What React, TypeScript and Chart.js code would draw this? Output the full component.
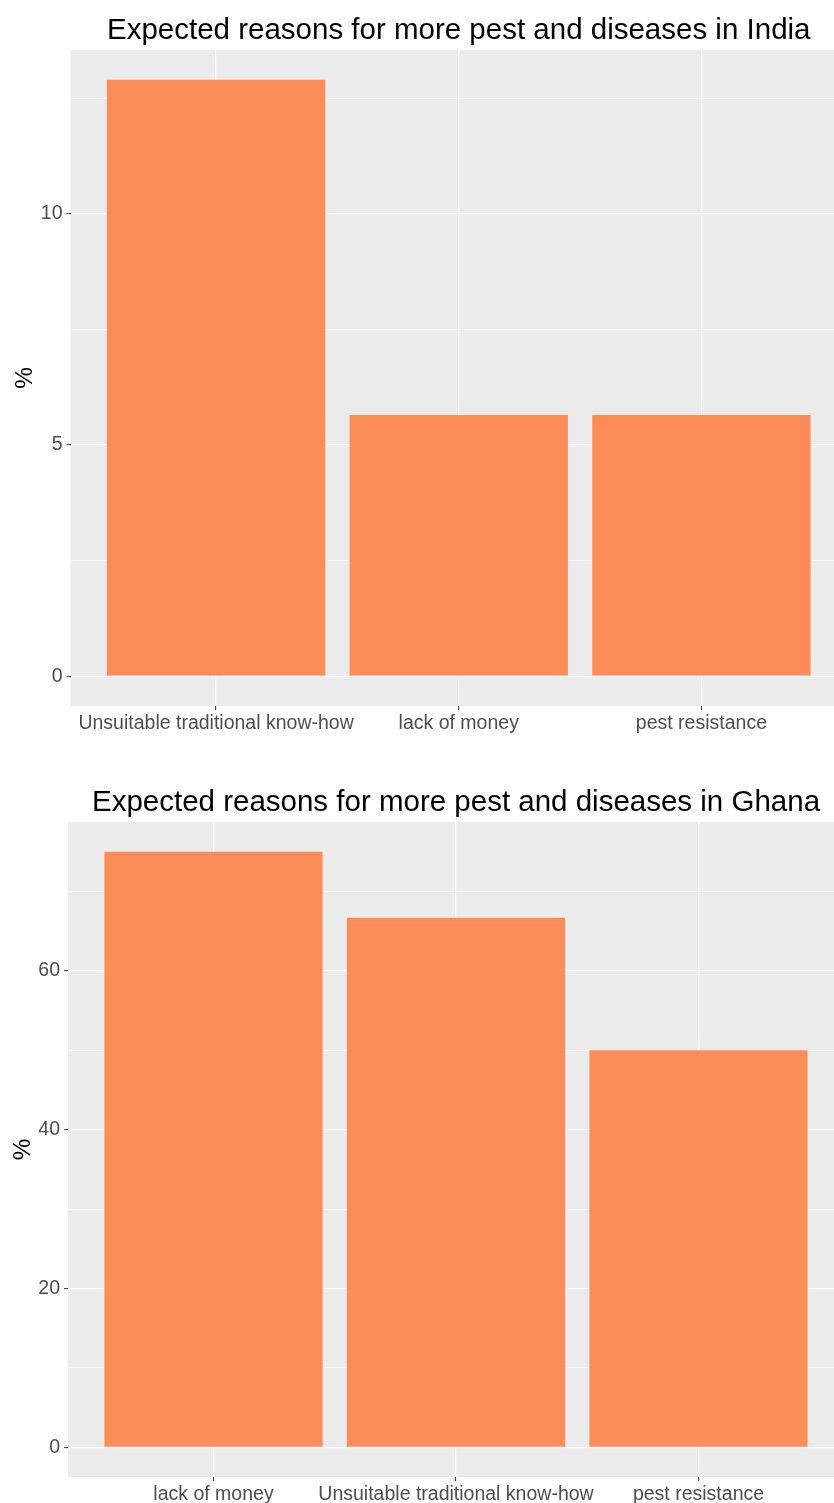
import React, { useEffect, useRef } from 'react';
import { Chart, registerables } from 'chart.js';

Chart.register(...registerables);

const indiaTitle = 'Expected reasons for more pest and diseases in India';
const indiaCategories = ['Unsuitable traditional know-how', 'lack of money', 'pest resistance'];
const indiaValues = [12.9, 5.65, 5.65];
const indiaMajorTicks = [0, 5, 10];
const indiaMinorTicks = [2.5, 7.5, 12.5];

const ghanaTitle = 'Expected reasons for more pest and diseases in Ghana';
const ghanaCategories = ['lack of money', 'Unsuitable traditional know-how', 'pest resistance'];
const ghanaValues = [75, 66.7, 50];
const ghanaMajorTicks = [0, 20, 40, 60];
const ghanaMinorTicks = [10, 30, 50, 70];

const FONT = '"Liberation Sans", Arial, Helvetica, sans-serif';
const BAR_COLOR = '#FC8D59';
const PANEL_BG = '#EBEBEB';

const panelBackground = {
  id: 'panelBackground',
  beforeDraw(chart: any) {
    const { ctx, chartArea } = chart;
    if (!chartArea) return;
    ctx.save();
    ctx.fillStyle = PANEL_BG;
    ctx.fillRect(chartArea.left, chartArea.top, chartArea.right - chartArea.left, chartArea.bottom - chartArea.top);
    ctx.restore();
  },
};

type PanelProps = {
  title: string;
  categories: string[];
  values: number[];
  majorTicks: number[];
  minorTicks: number[];
  top: number;
  width: number;
  height: number;
  axisWidth: number;
  titlePadTop: number;
  yTitlePad: number;
};

function BarPanel(props: PanelProps) {
  const ref = useRef<HTMLCanvasElement | null>(null);
  useEffect(() => {
    if (!ref.current) return;
    const { title, categories, values, majorTicks, minorTicks, axisWidth, titlePadTop, yTitlePad } = props;
    const positions = categories.map((_, i) => i + 1);
    const maxV = Math.max(...values);
    const expand = maxV * 0.05;
    const allTicks = [...majorTicks, ...minorTicks].sort((a, b) => a - b);
    const isMajor = (v: any) => majorTicks.some((m) => Math.abs(m - v) < 1e-9);

    const chart = new Chart(ref.current, {
      type: 'bar',
      data: {
        datasets: [
          {
            data: values.map((v, i) => ({ x: positions[i], y: v })),
            backgroundColor: BAR_COLOR,
            borderWidth: 0,
            categoryPercentage: 1,
            barPercentage: 0.9,
          } as any,
        ],
      },
      options: {
        animation: false,
        responsive: true,
        maintainAspectRatio: false,
        layout: { padding: 0 },
        plugins: {
          legend: { display: false },
          tooltip: { enabled: false },
          title: {
            display: true,
            text: title,
            fullSize: false,
            color: '#000000',
            font: { family: FONT, size: 29.5, weight: 'normal', lineHeight: 1.2 },
            padding: { top: titlePadTop, bottom: 1.6 },
          } as any,
        },
        scales: {
          x: {
            type: 'linear',
            min: 0.4,
            max: 3.6,
            offset: false,
            afterBuildTicks: (s: any) => {
              s.ticks = positions.map((v) => ({ value: v }));
            },
            afterFit: (s: any) => {
              s.height = 44;
            },
            ticks: {
              callback: (v: any) => categories[Math.round(v) - 1] ?? '',
              color: '#4D4D4D',
              font: { family: FONT, size: 19.5, lineHeight: 1.2 },
              padding: 1.5,
              autoSkip: false,
              maxRotation: 0,
              minRotation: 0,
            },
            grid: {
              color: '#FFFFFF',
              lineWidth: 1.2,
              offset: false,
              drawTicks: true,
              tickLength: 4,
              tickColor: '#333333',
              tickWidth: 1,
            },
            border: { display: false },
          } as any,
          y: {
            type: 'linear',
            min: -expand,
            max: maxV + expand,
            afterBuildTicks: (s: any) => {
              s.ticks = allTicks.map((v) => ({ value: v }));
            },
            afterFit: (s: any) => {
              s.width = axisWidth;
            },
            ticks: {
              callback: (v: any) => (isMajor(v) ? String(v) : ''),
              color: '#4D4D4D',
              font: { family: FONT, size: 19.5, lineHeight: 1.2 },
              padding: 4,
              autoSkip: false,
            },
            grid: {
              color: '#FFFFFF',
              lineWidth: (ctx: any) => (isMajor(ctx.tick?.value) ? 1.2 : 0.6),
              drawTicks: true,
              tickLength: 4,
              tickColor: (ctx: any) => (isMajor(ctx.tick?.value) ? '#333333' : 'rgba(0,0,0,0)'),
              tickWidth: 1,
            },
            title: {
              display: true,
              text: '%',
              color: '#000000',
              font: { family: FONT, size: 24.4, lineHeight: 1.2 },
              padding: { top: yTitlePad, bottom: 0 },
            },
            border: { display: false },
          } as any,
        },
      },
      plugins: [panelBackground],
    });
    return () => chart.destroy();
  }, []);

  return (
    <div
      style={{
        position: 'absolute',
        left: 0,
        top: props.top,
        width: props.width,
        height: props.height,
      }}
    >
      <canvas ref={ref} />
    </div>
  );
}

export default function App() {
  return (
    <div
      style={{
        position: 'absolute',
        left: 0,
        top: 0,
        width: 834,
        height: 1503,
        overflow: 'hidden',
        background: '#FFFFFF',
      }}
    >
      <BarPanel
        title={indiaTitle}
        categories={indiaCategories}
        values={indiaValues}
        majorTicks={indiaMajorTicks}
        minorTicks={indiaMinorTicks}
        top={0}
        width={847}
        height={750}
        axisWidth={70.5}
        titlePadTop={13}
        yTitlePad={10.4}
      />
      <BarPanel
        title={ghanaTitle}
        categories={ghanaCategories}
        values={ghanaValues}
        majorTicks={ghanaMajorTicks}
        minorTicks={ghanaMinorTicks}
        top={760}
        width={844}
        height={761}
        axisWidth={68}
        titlePadTop={25}
        yTitlePad={8.7}
      />
    </div>
  );
}
